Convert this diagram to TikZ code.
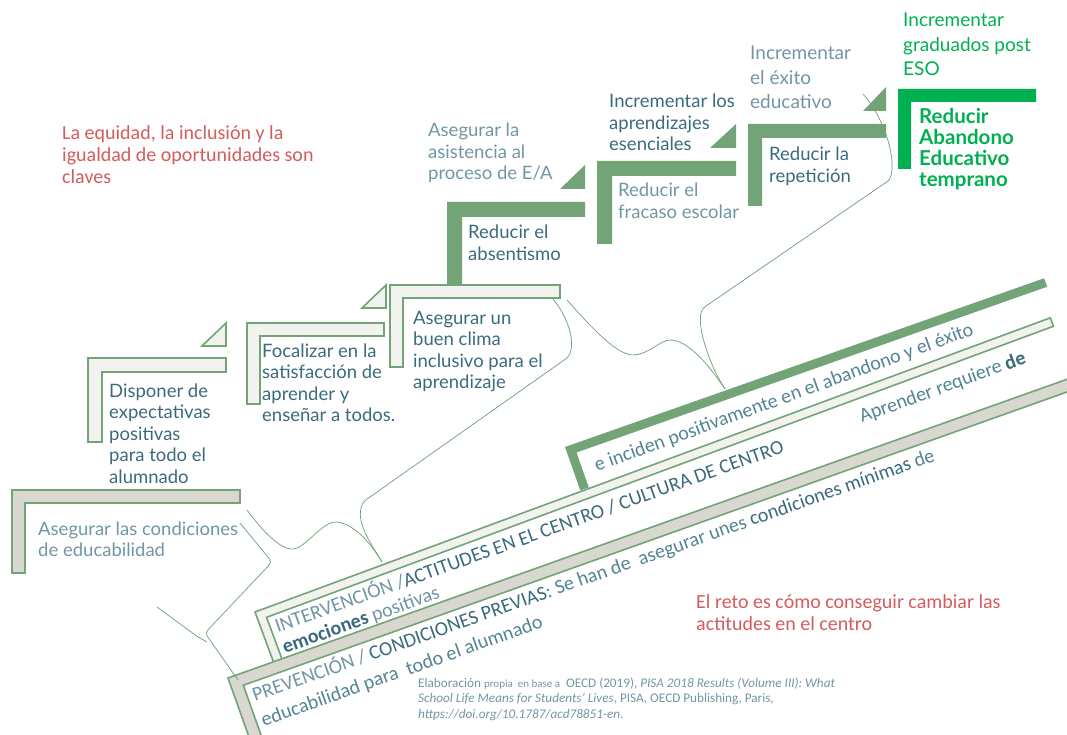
\documentclass[tikz,border=0pt]{standalone}
\usepackage{fontspec}
\setmainfont{Carlito}
\newfontfamily\lato{Lato}
\usepackage{tikz}
\usetikzlibrary{positioning}

\definecolor{verde}{RGB}{114,164,120}
\definecolor{verdeclaro}{RGB}{242,243,238}
\definecolor{gris}{RGB}{216,216,208}
\definecolor{verdevivo}{RGB}{0,176,80}
\definecolor{tealosc}{RGB}{58,106,124}
\definecolor{tealmed}{RGB}{84,132,148}
\definecolor{tealcla}{RGB}{112,150,164}
\definecolor{rojo}{RGB}{212,92,92}

\newcommand{\peldano}[7][0]{%
  \begin{scope}[shift={(#3,#4)}, rotate=#1]
    \path[#2] (0,0) -- (#5,0) -- (#5,#7) -- (#7,#7) -- (#7,#6) -- (0,#6) -- cycle;
  \end{scope}}

\begin{document}
\begin{tikzpicture}[
    x=1pt, y=-1pt,
    claro/.style={fill=verdeclaro, draw=verde, line width=1.6pt},
    grisal/.style={fill=gris, draw=verde, line width=1.6pt},
    oscuro/.style={fill=verde},
    vivo/.style={fill=verdevivo},
    llave/.style={draw=verde, line width=0.75pt},
    paso/.style={anchor=base west, inner sep=0pt, align=left, text=tealosc, font=\lato\fontsize{18.5}{21.5}\selectfont},
    pasoclaro/.style={paso, text=tealcla},
    nota/.style={anchor=base west, inner sep=0pt, align=left, text=rojo, font=\fontsize{20}{22}\selectfont},
    banda/.style={anchor=base west, inner sep=0pt, align=left, rotate=#1, text=tealmed, font=\fontsize{20}{22}\selectfont},
    banda/.default=20
]
\useasboundingbox (0,0) rectangle (1067,735);
\clip (0,0) rectangle (1067,735);

\peldano[19.4]{oscuro}{565}{447}{508}{46}{9}
\peldano[20.3]{claro}{255}{612}{848}{55}{9}
\peldano[19.6]{grisal}{228}{678}{900}{90}{12}

\peldano{grisal}{12}{490}{228}{83}{13}
\peldano{claro}{88}{358}{138}{84}{14}
\peldano{claro}{247}{323}{137}{81}{13}
\peldano{claro}{390}{285}{170}{82}{13}
\peldano{oscuro}{447}{202}{138}{83}{15}
\peldano{oscuro}{597}{161}{139}{83}{15}
\peldano{oscuro}{748}{124}{138}{82}{14}
\peldano{vivo}{898}{89}{138}{80}{13}

\path[claro] (202,346) -- (226,323) -- (226,346) -- cycle;
\path[claro] (362,308) -- (386,285) -- (386,308) -- cycle;
\path[oscuro] (560,189) -- (585,165) -- (585,189) -- cycle;
\path[oscuro] (710,148) -- (736,124) -- (736,148) -- cycle;
\path[oscuro] (863,111) -- (886,87) -- (886,111) -- cycle;

\draw[llave, rounded corners=4pt] (240,523) -- (272,562) -- (205,633) -- (238,680);
\draw[llave, rounded corners=3pt] (157,607) -- (198,637) -- (207,642);
\draw[llave] (247,510) .. controls (262,530) and (280,550) .. (293,549)
    .. controls (306,548) and (322,521) .. (337,522)
    .. controls (355,524) and (372,545) .. (382,562);
\draw[llave] (382,562) .. controls (372,545) and (357,525) .. (361,508)
    .. controls (362,503) and (365,500) .. (370,497) -- (567,358)
    .. controls (576,350) and (572,322) .. (553,299);
\draw[llave] (567,300) .. controls (585,320) and (615,355) .. (633,355)
    .. controls (648,355) and (660,340) .. (670,340)
    .. controls (690,340) and (712,370) .. (725,389);
\draw[llave] (725,389) .. controls (712,370) and (697,330) .. (701,313)
    .. controls (702,309) and (704,307) .. (709,304) -- (888,181)
    .. controls (898,172) and (890,125) .. (863,94);

\node[pasoclaro] (educab) at (38,556.5) {Asegurar las condiciones\\de educabilidad};
\node[paso] (expect) at (109,483) {Disponer de\\expectativas\\positivas\\para todo el\\alumnado};
\node[paso] (focal) at (262,421.5) {Focalizar en la\\satisfacción de\\aprender y\\enseñar a todos.};
\node[paso] (clima) at (413,388.5) {Asegurar un\\buen clima\\inclusivo para el\\aprendizaje};
\node[paso] (absent) at (468,260.5) {Reducir el\\absentismo};
\node[pasoclaro] (asist) at (428,180) {Asegurar la\\asistencia al\\proceso de E/A};
\node[paso] (aprend) at (609,151) {Incrementar los\\aprendizajes\\esenciales};
\node[pasoclaro] (fracaso) at (618,218.5) {Reducir el\\fracaso escolar};
\node[pasoclaro, font=\lato\fontsize{19}{24.3}\selectfont] (exito) at (750,108.6) {Incrementar\\el éxito\\educativo};
\node[paso] (repet) at (769,182.5) {Reducir la\\repetición};
\node[paso, text=verdevivo, font=\lato\bfseries\fontsize{20.5}{21.3}\selectfont] (abandono) at (919,187) {Reducir\\Abandono\\Educativo\\temprano};
\node[paso, text=verdevivo, font=\lato\fontsize{19}{24.5}\selectfont] (gradpost) at (903,76) {Incrementar\\graduados post\\ESO};

\node[nota] (equidad) at (62,184) {La equidad, la inclusión y la\\igualdad de oportunidades son\\claves};
\node[nota] (reto) at (696,630) {El reto es cómo conseguir cambiar las\\actitudes en el centro};

\node[banda=19.6, text=tealcla] (interv) at (285,653.5) {INTERVENCIÓN /{\color{tealosc}ACTITUDES EN EL CENTRO / CULTURA DE CENTRO}\\{\color{tealosc}\bfseries emociones} positivas};
\node[banda] (inciden) at (597,472) {e inciden positivamente en el abandono y el éxito};
\node[banda] (aprender) at (862,423) {Aprender requiere {\color{tealosc}\bfseries de}};
\node[banda=19.5, text=tealmed, font=\fontsize{20}{26}\selectfont] (prev) at (263.7,726.5) {{\color{tealcla}PREVENCIÓN /} {\color{tealosc}CONDICIONES PREVIAS}: Se han de~ asegurar unes {\color{tealosc}condiciones mínimas} de\\educabilidad para~ todo el alumnado};

\node[anchor=base west, inner sep=0pt, align=left, text=tealcla, font=\fontsize{13.2}{15.5}\selectfont] (cita) at (418,718) {Elaboración {\fontsize{11}{15.5}\selectfont propia~ en base a}~ OECD (2019), \textit{PISA 2018 Results (Volume III): What}\\\textit{School Life Means for Students’ Lives}, PISA, OECD Publishing, Paris,\\\textit{https://doi.org/10.1787/acd78851-en}.};
\end{tikzpicture}
\end{document}
